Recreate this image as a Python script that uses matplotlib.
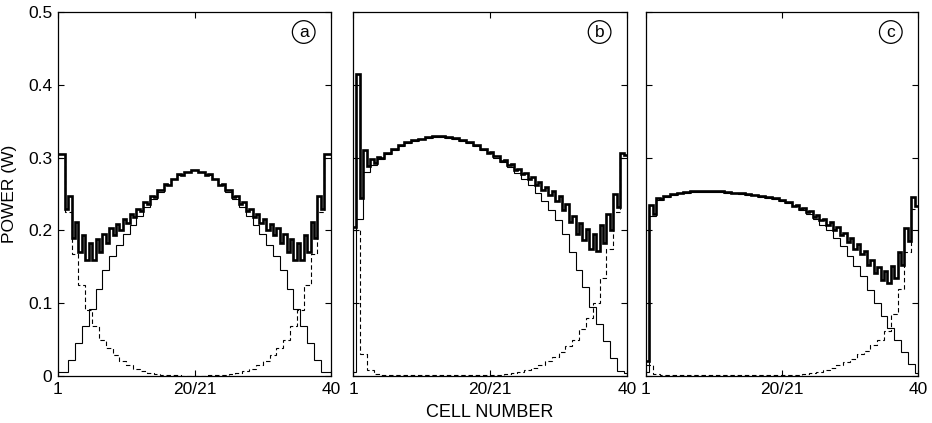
import numpy as np
import matplotlib.pyplot as plt

plt.rcParams['font.family'] = ['Liberation Sans', 'DejaVu Sans']

cell_ticks = [0, 20, 40]
cell_labels = ['1', '20/21', '40']
power_ticks = [0, 0.1, 0.2, 0.3, 0.4, 0.5]
power_labels = ['0', '0.1', '0.2', '0.3', '0.4', '0.5']
panel_tags = ['a', 'b', 'c']

# thin solid curve, steps on the half-cell grid (41 values, first/last are half cells)
solid_a = [0.005, 0.005, 0.022, 0.045, 0.068, 0.092, 0.12, 0.145, 0.165, 0.18, 0.195,
           0.208, 0.22, 0.232, 0.243, 0.253, 0.262, 0.27, 0.276, 0.28, 0.283,
           0.28, 0.276, 0.27, 0.262, 0.253, 0.243, 0.232, 0.22, 0.208, 0.195,
           0.18, 0.165, 0.145, 0.12, 0.092, 0.068, 0.045, 0.022, 0.005, 0.005]
solid_b = [0.005, 0.215, 0.28, 0.29, 0.298, 0.305, 0.311, 0.316, 0.32, 0.323, 0.325,
           0.327, 0.328, 0.328, 0.327, 0.326, 0.323, 0.32, 0.316, 0.311, 0.306,
           0.3, 0.294, 0.287, 0.279, 0.271, 0.262, 0.252, 0.24, 0.228, 0.214,
           0.195, 0.17, 0.145, 0.122, 0.095, 0.072, 0.048, 0.025, 0.007, 0.004]
solid_c = [0.005, 0.22, 0.242, 0.246, 0.249, 0.251, 0.252, 0.253, 0.253, 0.253, 0.253,
           0.253, 0.252, 0.251, 0.25, 0.249, 0.248, 0.246, 0.245, 0.243, 0.241,
           0.238, 0.233, 0.228, 0.222, 0.215, 0.208, 0.2, 0.19, 0.178, 0.165,
           0.151, 0.137, 0.118, 0.1, 0.082, 0.066, 0.05, 0.033, 0.016, 0.004]

# dashed curve, one value per cell 1..40
dashed_a = [0.30, 0.225, 0.167, 0.125, 0.091, 0.068, 0.05, 0.038, 0.029, 0.021,
            0.015, 0.01, 0.007, 0.004, 0.003, 0.002, 0.001, 0.001, 0.0, 0.0,
            0.0, 0.0, 0.001, 0.001, 0.002, 0.003, 0.004, 0.007, 0.01, 0.015,
            0.021, 0.029, 0.038, 0.05, 0.068, 0.091, 0.125, 0.167, 0.225, 0.30]
dashed_b = [0.2, 0.03, 0.008, 0.003, 0.002, 0.001, 0.001, 0.001, 0.001, 0.001,
            0.001, 0.001, 0.001, 0.001, 0.001, 0.001, 0.001, 0.001, 0.001, 0.001,
            0.002, 0.002, 0.003, 0.004, 0.006, 0.008, 0.011, 0.015, 0.02, 0.026,
            0.033, 0.041, 0.05, 0.065, 0.08, 0.1, 0.135, 0.175, 0.225, 0.30]
dashed_c = [0.015, 0.003, 0.001, 0.001, 0.001, 0.001, 0.001, 0.001, 0.001, 0.001,
            0.001, 0.001, 0.001, 0.001, 0.001, 0.001, 0.001, 0.001, 0.001, 0.001,
            0.001, 0.001, 0.002, 0.003, 0.004, 0.006, 0.008, 0.011, 0.015, 0.019,
            0.024, 0.03, 0.035, 0.042, 0.05, 0.062, 0.085, 0.12, 0.17, 0.23]

panels = [(solid_a, dashed_a), (solid_b, dashed_b), (solid_c, dashed_c)]

fig = plt.figure(figsize=(9.32, 4.23), dpi=100)
W, H = 932, 423
lefts = [58, 353, 646]
widths = [273, 274, 272]
top_px, bottom_px = 12, 376

solid_edges = np.concatenate([[0], np.arange(0.5, 40, 1), [40]])
dashed_edges = np.arange(0, 41)
half_edges = np.arange(0, 40.5, 0.5)

for i, (solid, dashed) in enumerate(panels):
    ax = fig.add_axes([lefts[i] / W, 1 - bottom_px / H, widths[i] / W, (bottom_px - top_px) / H])
    s = np.array(solid)
    d = np.array(dashed)
    # thick line = sum of the two curves on the half-cell grid
    total = np.empty(80)
    total[0::2] = s[:-1] + d
    total[1::2] = s[1:] + d

    ax.stairs(s, solid_edges, baseline=None, color='k', lw=0.8)
    ax.stairs(d, dashed_edges, baseline=None, color='k', lw=0.8, linestyle=(0, (4, 2.5)))
    ax.stairs(total, half_edges, baseline=None, color='k', lw=1.9, zorder=3)

    ax.set_xlim(0, 40)
    ax.set_ylim(0, 0.5)
    ax.set_xticks(cell_ticks)
    ax.set_xticklabels(cell_labels, fontsize=12.5)
    ax.set_yticks(power_ticks)
    if i == 0:
        ax.set_yticklabels(power_labels, fontsize=12.5)
        ax.set_ylabel('POWER (W)', fontsize=12.5, labelpad=8)
    else:
        ax.set_yticklabels([])
    ax.tick_params(direction='in', top=True, right=True, length=4, width=0.8, pad=4)
    for sp in ax.spines.values():
        sp.set_linewidth(0.9)

    ax.text(0.9, 0.945, panel_tags[i], transform=ax.transAxes, ha='center', va='center',
            fontsize=12.5, bbox=dict(boxstyle='circle,pad=0.22', fc='white', ec='k', lw=0.9))

fig.text(490 / W, 1 - 412 / H, 'CELL NUMBER', ha='center', va='center', fontsize=13)

fig.savefig('out.png', dpi=100)
